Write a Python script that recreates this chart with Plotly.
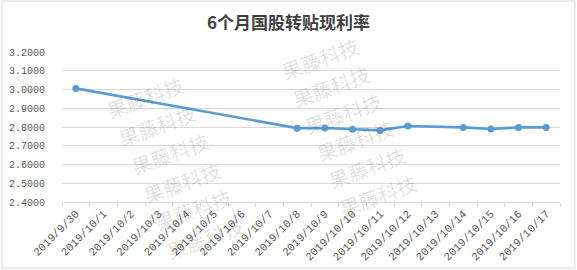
import plotly.graph_objects as go

dates = ["2019/9/30", "2019/10/1", "2019/10/2", "2019/10/3", "2019/10/4", "2019/10/5",
         "2019/10/6", "2019/10/7", "2019/10/8", "2019/10/9", "2019/10/10", "2019/10/11",
         "2019/10/12", "2019/10/13", "2019/10/14", "2019/10/15", "2019/10/16", "2019/10/17"]
rates = [3.006, None, None, None, None, None, None, None, 2.794, 2.795, 2.788, 2.782,
         2.805, None, 2.798, 2.789, 2.798, 2.798]
y_ticks = [2.4, 2.5, 2.6, 2.7, 2.8, 2.9, 3.0, 3.1, 3.2]
title_text = "6个月国股转贴现利率"
watermark = "果藤科技"

W, H = 577, 270
L, R, T, B = 62, 17, 52, 68
pw, ph = W - L - R, H - T - B

def px(x):
    return (x - L) / pw

def py(y):
    return (H - B - y) / ph

fig = go.Figure()
fig.add_trace(go.Scatter(
    x=dates, y=rates, mode="lines+markers", connectgaps=True,
    line=dict(color="#5B9BD5", width=2.6),
    marker=dict(color="#5B9BD5", size=7),
    hoverinfo="skip", showlegend=False,
))

wm_pos = [(145, 97), (157, 125), (170, 153), (182, 182), (193, 210), (205, 238),
          (320, 58), (331, 86), (343, 113), (355, 140), (367, 167), (378, 195)]
annotations = []
for (x, y) in wm_pos:
    annotations.append(dict(
        x=px(x), y=py(y), xref="paper", yref="paper", text=watermark,
        showarrow=False, textangle=-20, xanchor="center", yanchor="middle",
        font=dict(family="Noto Sans CJK SC", size=20, color="rgba(0,0,0,0.13)"),
    ))

fig.update_layout(
    width=W, height=H,
    margin=dict(l=L, r=R, t=T, b=B),
    paper_bgcolor="white", plot_bgcolor="white",
    title=dict(text="<b>" + title_text + "</b>", x=0.5, xanchor="center",
               y=1 - 23 / H, yanchor="middle", yref="container",
               font=dict(family="Noto Sans CJK SC", size=17, color="#404040")),
    annotations=annotations,
    shapes=[dict(type="rect", xref="paper", yref="paper",
                 x0=px(2), x1=px(575), y0=py(268), y1=py(1),
                 line=dict(color="#d9d9d9", width=1), layer="below")],
    xaxis=dict(
        type="category", range=[-0.5, len(dates) - 0.5],
        tickangle=-45, tickson="boundaries",
        ticks="outside", ticklen=4, tickcolor="#d9d9d9",
        showgrid=False, showline=True, linecolor="#d9d9d9", linewidth=1,
        tickfont=dict(family="Liberation Mono", size=11, color="#595959"),
        fixedrange=True, automargin=False,
    ),
    yaxis=dict(
        range=[2.4, 3.2], tickvals=y_ticks, tickformat=".4f",
        showgrid=True, gridcolor="#d9d9d9", gridwidth=1,
        zeroline=False, showline=False, ticks="",
        ticklabelstandoff=16,
        tickfont=dict(family="Liberation Mono", size=10, color="#595959"),
        fixedrange=True, automargin=False,
    ),
)

fig.write_html("out.html")
